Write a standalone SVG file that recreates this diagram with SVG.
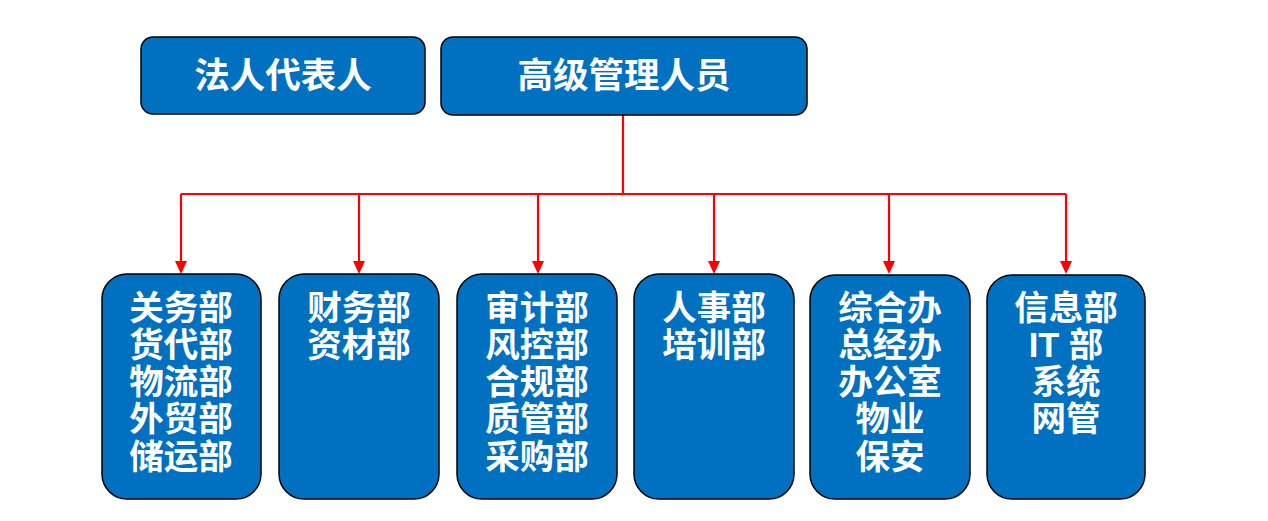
<svg xmlns="http://www.w3.org/2000/svg" width="1268" height="521" viewBox="0 0 1268 521">
<defs>
<style>
.box{fill:#0070C0;stroke:#000;stroke-width:1.5}
.t{fill:#fff;font-family:"Liberation Sans","Noto Sans CJK SC",sans-serif;font-weight:bold;font-size:34.5px;text-anchor:middle}
.tt{font-size:35.5px}
.c{stroke:#FF0000;stroke-width:2.2;fill:none}
</style>
</defs>
<rect width="1268" height="521" fill="#fff"/>
<g id="connectors">
<path class="c" d="M623,115 V194"/>
<path class="c" d="M181,194 H1066"/>
<path class="c" d="M181,194 V261"/>
<path class="c" d="M359,194 V261"/>
<path class="c" d="M538,194 V261"/>
<path class="c" d="M714,194 V261"/>
<path class="c" d="M889,194 V261"/>
<path class="c" d="M1066,194 V261"/>
<g fill="#FF0000">
<path d="M175,261 H187 L181,274 Z"/>
<path d="M353,261 H365 L359,274 Z"/>
<path d="M532,261 H544 L538,274 Z"/>
<path d="M708,261 H720 L714,274 Z"/>
<path d="M883,261 H895 L889,274 Z"/>
<path d="M1060,261 H1072 L1066,274 Z"/>
</g>
</g>
<g id="n-legal">
<rect class="box" x="141" y="37" width="284" height="77" rx="12"/>
<text class="t tt" x="283" y="88">法人代表人</text>
</g>
<g id="n-senior">
<rect class="box" x="441" y="37" width="366" height="78" rx="12"/>
<text class="t tt" x="624" y="88">高级管理人员</text>
</g>
<g id="n-d1">
<rect class="box" x="102" y="274" width="159" height="225" rx="25"/>
<text class="t" x="181" y="320">关务部</text>
<text class="t" x="181" y="357">货代部</text>
<text class="t" x="181" y="394">物流部</text>
<text class="t" x="181" y="431">外贸部</text>
<text class="t" x="181" y="469">储运部</text>
</g>
<g id="n-d2">
<rect class="box" x="279" y="274" width="160" height="225" rx="25"/>
<text class="t" x="359" y="320">财务部</text>
<text class="t" x="359" y="357">资材部</text>
</g>
<g id="n-d3">
<rect class="box" x="457" y="274" width="160" height="225" rx="25"/>
<text class="t" x="537" y="320">审计部</text>
<text class="t" x="537" y="357">风控部</text>
<text class="t" x="537" y="394">合规部</text>
<text class="t" x="537" y="431">质管部</text>
<text class="t" x="537" y="469">采购部</text>
</g>
<g id="n-d4">
<rect class="box" x="634" y="274" width="160" height="225" rx="25"/>
<text class="t" x="714" y="320">人事部</text>
<text class="t" x="714" y="357">培训部</text>
</g>
<g id="n-d5">
<rect class="box" x="810" y="275" width="160" height="224" rx="25"/>
<text class="t" x="890" y="320">综合办</text>
<text class="t" x="890" y="357">总经办</text>
<text class="t" x="890" y="394">办公室</text>
<text class="t" x="890" y="431">物业</text>
<text class="t" x="890" y="469">保安</text>
</g>
<g id="n-d6">
<rect class="box" x="987" y="275" width="158" height="224" rx="25"/>
<text class="t" x="1066" y="320">信息部</text>
<text class="t" x="1066" y="357">IT 部</text>
<text class="t" x="1066" y="394">系统</text>
<text class="t" x="1066" y="431">网管</text>
</g>
</svg>
